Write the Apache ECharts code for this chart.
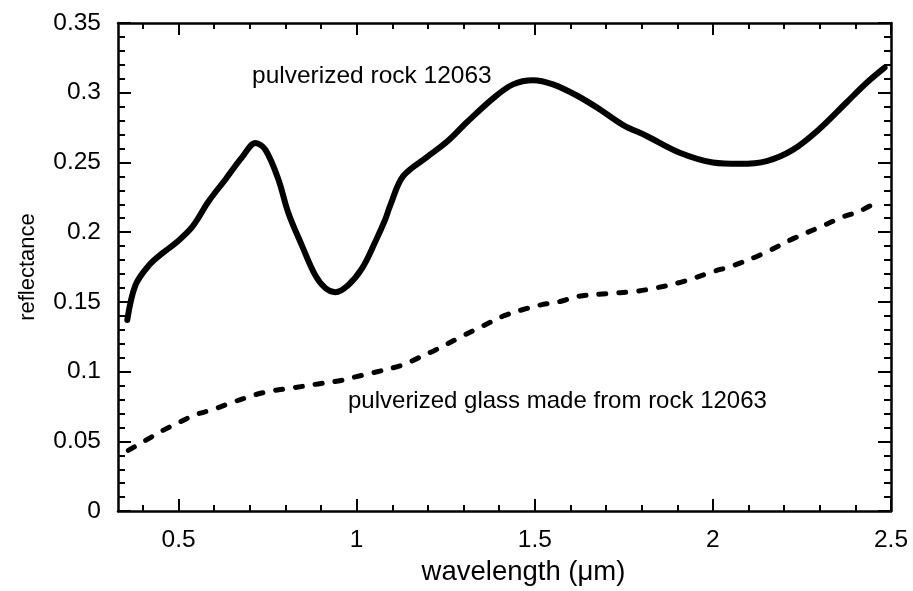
<!DOCTYPE html>
<html>
<head>
<meta charset="utf-8">
<title>Reflectance spectra of rock 12063</title>
<script src="https://cdn.jsdelivr.net/npm/echarts@6/dist/echarts.min.js"></script>
<style>
  html, body { margin: 0; padding: 0; background: #fff; }
  #chart { width: 913px; height: 591px; }
</style>
</head>
<body>
<div id="chart"></div>
<script>
// Spectrum of the pulverized rock (solid line)
const rockWavelength = [0.356, 0.379, 0.416, 0.455, 0.491, 0.539, 0.584, 0.632, 0.679, 0.716,
  0.744, 0.780, 0.808, 0.847, 0.884, 0.912, 0.940, 0.976, 1.015, 1.052,
  1.080, 1.094, 1.130, 1.198, 1.254, 1.310, 1.383, 1.439, 1.495, 1.551,
  1.618, 1.683, 1.747, 1.814, 1.907, 2.000, 2.075, 2.151, 2.224, 2.299,
  2.375, 2.431, 2.482];
const rockReflectance = [0.137, 0.162, 0.176, 0.185, 0.192, 0.204, 0.222, 0.238, 0.254, 0.264,
  0.259, 0.238, 0.214, 0.190, 0.169, 0.160, 0.157, 0.162, 0.174, 0.193,
  0.209, 0.219, 0.240, 0.254, 0.265, 0.279, 0.296, 0.306, 0.309, 0.306,
  0.298, 0.288, 0.277, 0.269, 0.257, 0.250, 0.249, 0.251, 0.259, 0.274,
  0.293, 0.307, 0.318];

// Spectrum of the glass made from the same rock (dashed line)
const glassWavelength = [0.359, 0.407, 0.455, 0.500, 0.547, 0.595, 0.640, 0.715, 0.763, 0.819,
  0.892, 0.948, 0.996, 1.043, 1.128, 1.172, 1.220, 1.296, 1.352, 1.416,
  1.478, 1.523, 1.571, 1.619, 1.703, 1.776, 1.832, 1.916, 2.000, 2.056,
  2.140, 2.224, 2.308, 2.364, 2.412, 2.470];
const glassReflectance = [0.0435, 0.0506, 0.0577, 0.0634, 0.0691, 0.0727, 0.0769, 0.0834, 0.0862, 0.0883,
  0.0912, 0.0933, 0.0962, 0.0990, 0.1047, 0.1097, 0.1154, 0.1254, 0.1325, 0.1403,
  0.1453, 0.1482, 0.1503, 0.1539, 0.1560, 0.1574, 0.1596, 0.1646, 0.1717, 0.1760,
  0.1845, 0.1952, 0.2045, 0.2109, 0.2151, 0.2230];

// Axis ticks
const xMajorTicks = [0.5, 1, 1.5, 2, 2.5];
const xMinorTicks = [0.4, 0.6, 0.7, 0.8, 0.9, 1.1, 1.2, 1.3, 1.4, 1.6, 1.7, 1.8, 1.9, 2.1, 2.2, 2.3, 2.4];
const xRange = [0.33, 2.5];
const yRange = [0, 0.35];
const yStep = 0.05;

const rockLabel = 'pulverized rock 12063';
const glassLabel = 'pulverized glass made from rock 12063';

const FONT = '"Liberation Sans", Arial, Helvetica, sans-serif';

const pairs = (xs, ys) => xs.map((x, i) => [x, ys[i]]);

function xAxisDef(position, ticks, len, withLabels, showLine) {
  return {
    type: 'value',
    position: position,
    min: xRange[0],
    max: xRange[1],
    axisLine: { show: showLine, onZero: false, lineStyle: { color: '#000', width: 2.5 } },
    axisTick: { show: true, inside: true, length: len, customValues: ticks,
      lineStyle: { color: '#000', width: 2 } },
    axisLabel: withLabels
      ? { show: true, customValues: ticks, color: '#000', fontSize: 24.5, fontFamily: FONT, margin: 17 }
      : { show: false },
    splitLine: { show: false }
  };
}

function yAxisDef(position, withLabels) {
  return {
    type: 'value',
    position: position,
    min: yRange[0],
    max: yRange[1],
    interval: yStep,
    axisLine: { show: true, onZero: false, lineStyle: { color: '#000', width: 2.5 } },
    axisTick: { show: true, inside: true, length: 13, lineStyle: { color: '#000', width: 2 } },
    minorTick: { show: true, splitNumber: 5, length: 7, lineStyle: { color: '#000', width: 2 } },
    axisLabel: withLabels
      ? { show: true, color: '#000', fontSize: 24.5, fontFamily: FONT, margin: 17 }
      : { show: false },
    splitLine: { show: false },
    minorSplitLine: { show: false }
  };
}

const xMain = xAxisDef('bottom', xMajorTicks, 12, true, true);
xMain.name = 'wavelength (\u03bcm)';
xMain.nameLocation = 'middle';
xMain.nameGap = 46;
// left padding nudges the title a little right of the plot centre
xMain.nameTextStyle = { color: '#000', fontSize: 27.5, fontFamily: FONT, padding: [0, 0, 0, 38] };

const yMain = yAxisDef('left', true);
yMain.name = 'reflectance';
yMain.nameLocation = 'middle';
yMain.nameGap = 79;
yMain.nameTextStyle = { color: '#000', fontSize: 22, fontFamily: FONT };

const chart = echarts.init(document.getElementById('chart'), null, { renderer: 'canvas' });

chart.setOption({
  backgroundColor: '#fff',
  animation: false,
  grid: { left: 118, right: 22, top: 23, bottom: 77, containLabel: false },
  xAxis: [
    xMain,
    xAxisDef('bottom', xMinorTicks, 6, false, false),
    xAxisDef('top', xMajorTicks, 12, false, true),
    xAxisDef('top', xMinorTicks, 6, false, false)
  ],
  yAxis: [
    yMain,
    yAxisDef('right', false)
  ],
  series: [
    {
      name: rockLabel,
      type: 'line',
      xAxisIndex: 0,
      yAxisIndex: 0,
      data: pairs(rockWavelength, rockReflectance),
      smooth: 0.35,
      symbol: 'none',
      lineStyle: { color: '#000', width: 6, cap: 'round', join: 'round' }
    },
    {
      name: glassLabel,
      type: 'line',
      xAxisIndex: 0,
      yAxisIndex: 0,
      data: pairs(glassWavelength, glassReflectance),
      smooth: 0.35,
      symbol: 'none',
      lineStyle: { color: '#000', width: 5, type: [7, 13], cap: 'round', join: 'round' }
    }
  ],
  graphic: [
    {
      type: 'text', left: 252, top: 64,
      style: { text: rockLabel, fill: '#000', fontSize: 24.5, fontFamily: FONT }
    },
    {
      type: 'text', left: 348, top: 389,
      style: { text: glassLabel, fill: '#000', fontSize: 24, fontFamily: FONT }
    }
  ]
});
</script>
</body>
</html>
